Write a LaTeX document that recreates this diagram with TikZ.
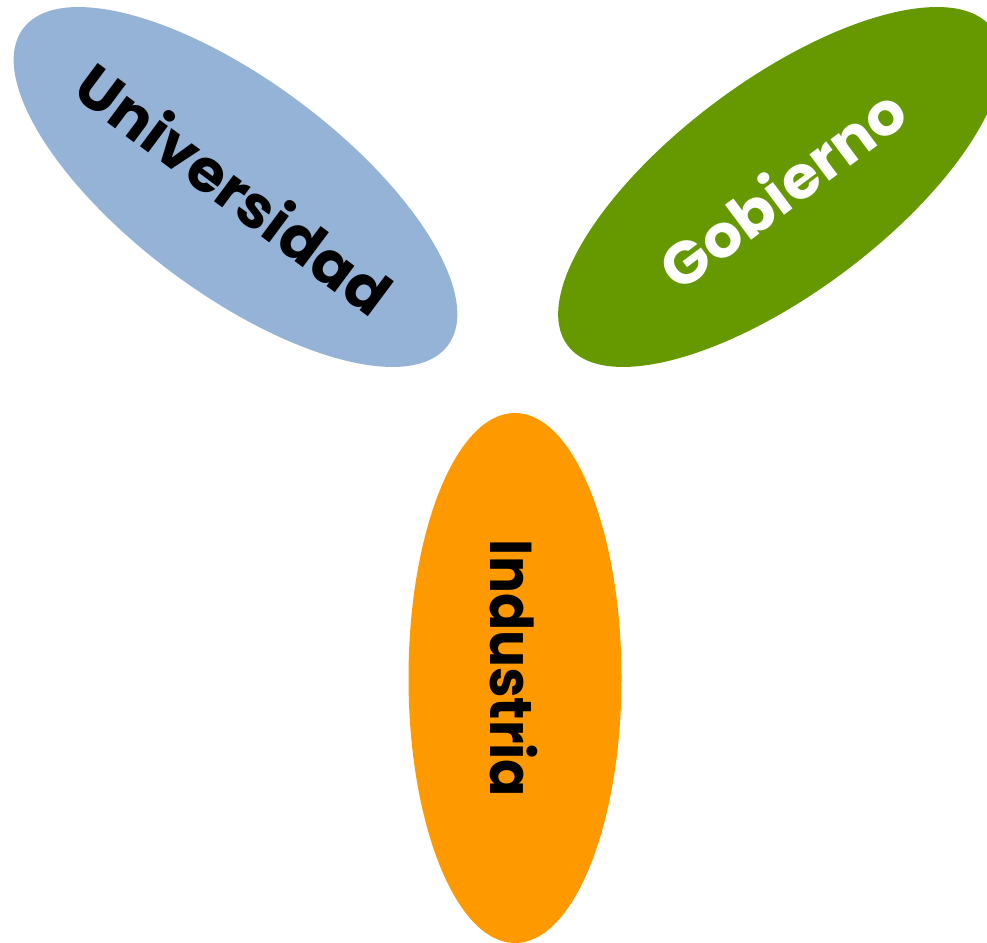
\documentclass[tikz,border=0pt]{standalone}
\usepackage{fontspec}
\setmainfont{Poppins}[UprightFont=* Bold]
\usetikzlibrary{shapes.geometric}
\definecolor{uniblue}{HTML}{95B3D7}
\definecolor{gobgreen}{HTML}{669900}
\definecolor{indorange}{HTML}{FF9900}
\tikzset{
  petal/.style={ellipse, inner sep=0pt, minimum width=530pt, minimum height=213pt, draw=none},
  lbl/.style={inner sep=0pt, font=\fontsize{59}{63}\selectfont}
}
\begin{document}
\begin{tikzpicture}[x=1pt,y=1pt]
\useasboundingbox (0,0) rectangle (987,942);
\node[petal, fill=uniblue, rotate=-36.7] (uni) at (235.5,755) {};
\node[petal, fill=gobgreen, rotate=36.7] (gob) at (780,755) {};
\node[petal, fill=indorange, rotate=90] (ind) at (515,264) {};
\node[lbl, rotate=-36.7, text=black, xscale=1.02] (tuni) at (235,754) {Universidad};
\node[lbl, rotate=36.7, text=white, xscale=1.04] (tgob) at (782,754) {Gobierno};
\node[lbl, rotate=-90, text=black, xscale=0.93] (tind) at (513.5,273.5) {Industria};
\end{tikzpicture}
\end{document}
